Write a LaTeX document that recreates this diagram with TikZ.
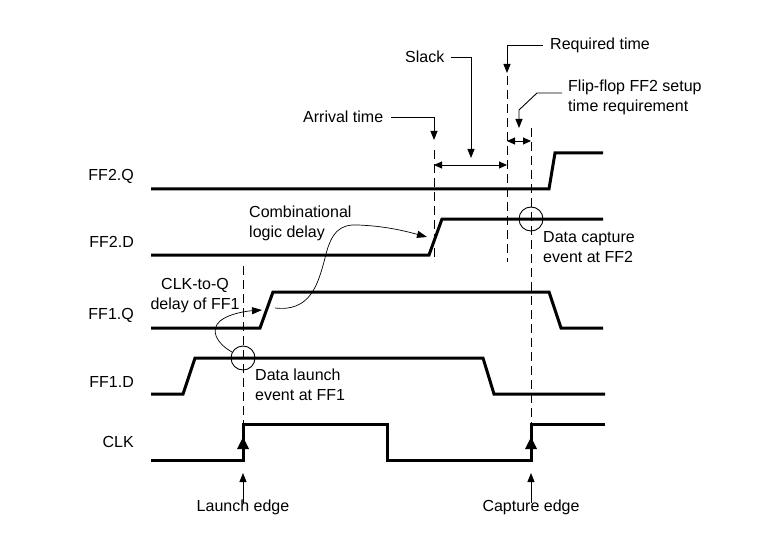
\documentclass[tikz,border=0pt]{standalone}
\usepackage{fontspec}
\setmainfont{Liberation Sans}
\usetikzlibrary{arrows.meta}
\begin{document}
\begin{tikzpicture}[x=1pt,y=-1pt,
  wave/.style={line width=3pt,line join=miter},
  guide/.style={line width=0.9pt,dash pattern=on 9pt off 5pt},
  lead/.style={line width=0.9pt,-{Triangle[length=9pt,width=7pt]}},
  dim/.style={line width=0.9pt,{Triangle[length=8pt,width=7pt]}-{Triangle[length=8pt,width=7pt]}},
  curv/.style={line width=0.7pt,-{Triangle[length=10pt,width=7pt]}},
  txt/.style={font=\fontsize{16}{20}\selectfont,inner sep=0pt,align=left},
  sig/.style={font=\fontsize{16}{20}\selectfont,inner sep=0pt,anchor=east},
  evt/.style={line width=0.9pt},
  tri/.style={fill=black}]
\useasboundingbox (0,0) rectangle (784,540);

% signal names
\node[sig] (nq2) at (134,176) {FF2.Q};
\node[sig] (nd2) at (134,242) {FF2.D};
\node[sig] (nq1) at (134,315) {FF1.Q};
\node[sig] (nd1) at (134,382) {FF1.D};
\node[sig] (nclk) at (134,442) {CLK};

% waveforms
\draw[wave] (151,189) -- (549,189) -- (555,153) -- (603,153);
\draw[wave] (151,255) -- (429,255) -- (442,219) -- (603,219);
\draw[wave] (151,328) -- (260,328) -- (273,292) -- (549,292) -- (561,328) -- (603,328);
\draw[wave] (151,394) -- (183,394) -- (195,358) -- (483,358) -- (494,394) -- (605,394);
\draw[wave] (151,460) -- (243,460) -- (243,424) -- (387,424) -- (387,460) -- (531,460) -- (531,424) -- (605,424);

% clock edge arrowheads
\fill[tri] (243,437) -- (249,449) -- (237,449) -- cycle;
\fill[tri] (531,437) -- (537,449) -- (525,449) -- cycle;

% dashed guides
\coordinate (arrT) at (434,150); \coordinate (arrB) at (434,262);
\coordinate (reqT) at (507,76);  \coordinate (reqB) at (507,262);
\coordinate (capT) at (531,128); \coordinate (capB) at (531,424);
\coordinate (lauT) at (243,266); \coordinate (lauB) at (243,424);
\draw[guide] (arrT) -- (arrB);
\draw[guide] (reqT) -- (reqB);
\draw[guide] (capT) -- (capB);
\draw[guide] (lauT) -- (lauB);

% event circles
\node[evt,draw,circle,minimum size=24pt,inner sep=0pt] (launchev) at (243,358) {};
\node[evt,draw,circle,minimum size=24pt,inner sep=0pt] (captev) at (531,219) {};

% labels with leaders
\node[txt,anchor=west] (arrival) at (303,117) {Arrival time};
\coordinate (arrTip) at (434,140);
\draw[lead] ([xshift=8pt]arrival.east) -| (arrTip);

\node[txt,anchor=west] (slack) at (405,57) {Slack};
\coordinate (slackTip) at (471,158);
\draw[lead] ([xshift=6pt]slack.east) -| (slackTip);
\coordinate (slL) at (434,165); \coordinate (slR) at (507,165);
\draw[dim] (slL) -- (slR);

\node[txt,anchor=west] (required) at (550,45) {Required time};
\coordinate (reqTip) at (507,73);
\draw[lead] ([xshift=-7pt]required.west) -| (reqTip);

\node[txt,anchor=west] (setup) at (568,97) {Flip-flop FF2 setup\\time requirement};
\coordinate (su1) at (562,93); \coordinate (su2) at (537,93);
\coordinate (su3) at (519,110); \coordinate (suTip) at (519,128);
\draw[lead] (su1) -- (su2) -- (su3) -- (suTip);
\coordinate (suL) at (507,141); \coordinate (suR) at (531,141);
\draw[dim] (suL) -- (suR);

\node[txt,anchor=west] (capture) at (543,247) {Data capture\\event at FF2};
\node[txt,anchor=west] (launch) at (255,385) {Data launch\\event at FF1};

\node[txt,anchor=west] (comb) at (249,223) {Combinational\\logic delay};
\node[txt,align=center] (clkq) at (195,296) {CLK-to-Q\\delay of FF1};

% curved delay arrows
\coordinate (cq0) at (232,352); \coordinate (cq1) at (220,321); \coordinate (cqTip) at (262,310);
\draw[curv] (cq0) .. controls (216,343) and (210,330) .. (cq1)
  .. controls (230,313) and (248,311) .. (cqTip);
\coordinate (cl0) at (275,308); \coordinate (cl1) at (325,258);
\coordinate (cl2) at (358,225); \coordinate (clTip) at (427,237);
\draw[curv] (cl0) .. controls (310,312) and (318,285) .. (cl1)
  .. controls (331,232) and (340,224) .. (cl2)
  .. controls (385,226) and (405,231) .. (clTip);

% edge labels
\node[txt,align=center] (launchedge) at (243,507) {Launch edge};
\node[txt,align=center] (captureedge) at (531,507) {Capture edge};
\coordinate (leTip) at (243,473); \coordinate (ceTip) at (531,473);
\draw[lead] ([yshift=-4pt]launchedge.north) -- (leTip);
\draw[lead] ([yshift=-4pt]captureedge.north) -- (ceTip);
\end{tikzpicture}
\end{document}
